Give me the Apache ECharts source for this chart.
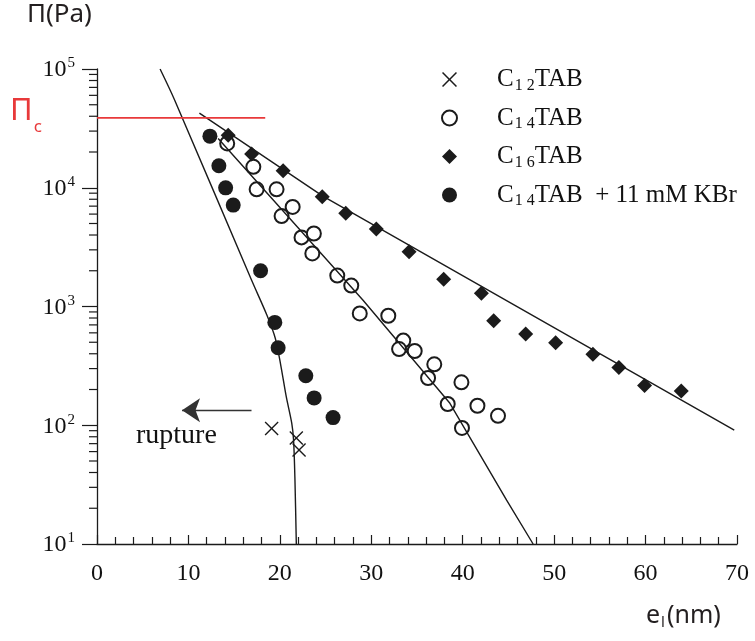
<!DOCTYPE html>
<html><head><meta charset="utf-8">
<script src="https://cdn.jsdelivr.net/npm/echarts@6/dist/echarts.min.js"></script>
<style>html,body{margin:0;padding:0;background:#fff}#c{width:755px;height:641px}</style>
</head><body><div id="c"></div>
<script>
// ---- data (e_l in nm, Pi in Pa) ----
const c12 = [[19.1, 94], [21.8, 78], [22.1, 62]];
const c14 = [[14.24, 23600], [17.1, 15000], [17.46, 9700], [19.64, 9700], [21.4, 6900], [20.19, 5770],
  [22.37, 3820], [23.72, 4120], [23.55, 2800], [26.28, 1820], [27.81, 1500], [28.74, 875], [31.86, 836],
  [33.5, 516], [33.04, 438], [34.75, 422], [36.89, 326], [36.21, 250], [39.86, 230], [38.36, 151],
  [41.61, 146], [43.86, 120], [39.92, 95]];
const c16 = [[14.35, 27700], [16.91, 19200], [20.36, 13900], [24.64, 8400], [27.21, 6100], [30.55, 4500],
  [34.13, 2890], [37.92, 1700], [42.04, 1290], [43.39, 759], [46.89, 586], [50.16, 494], [54.24, 397],
  [57.08, 306], [59.89, 216], [63.9, 194]];
const c14kbr = [[12.35, 27200], [13.33, 15300], [14.07, 9980], [14.9, 7140], [17.89, 2000], [19.45, 735],
  [19.81, 449], [22.84, 261], [23.75, 170], [25.82, 116]];
const fitC12 = [[6.9, 100000], [8.5, 54600], [16.9, 1670], [18.6, 840], [19.5, 540], [20.1, 320],
  [20.7, 174], [21.3, 104], [21.5, 75], [21.65, 35], [21.8, 10]];
const fitC14 = [[13.25, 26000], [29.1, 1130], [38.6, 153], [44.8, 23.4], [47.7, 10]];
const fitC16 = [[11.2, 42500], [24.7, 8490], [69.7, 91]];
const piC = [[0, 38700], [18.4, 38700]];
const ruptureArrow = [[16.9, 134], [9.3, 134]];
const xTickValues = [0, 10, 20, 30, 40, 50, 60, 70];
const yDecades = [10, 100, 1000, 10000, 100000];
const yMinorMultipliers = [2, 3, 4, 5, 6, 7, 8, 9];
const names = ['C12TAB', 'C14TAB', 'C16TAB', 'C14TAB  + 11 mM KBr'];

const yMinor = [];
yDecades.slice(0, -1).forEach(d => yMinorMultipliers.forEach(m => yMinor.push([0, d * m])));

const ink = '#1b1b1b';
const serif = '"Liberation Serif", "DejaVu Serif", serif';
const sans = '"Noto Sans", "Open Sans", sans-serif';
const crossPath = 'path://M0,0.7L0.7,0L5,4.3L9.3,0L10,0.7L5.7,5L10,9.3L9.3,10L5,5.7L0.7,10L0,9.3L4.3,5Z';

const chart = echarts.init(document.getElementById('c'));
chart.setOption({
  animation: false,
  backgroundColor: '#fff',
  grid: { left: 97, right: 18, top: 69, bottom: 97, containLabel: false },
  xAxis: {
    type: 'value', min: 0, max: 70, interval: 10,
    axisLine: { lineStyle: { color: ink, width: 1.3 } },
    axisTick: { inside: true, length: 9, lineStyle: { color: ink, width: 1.2 } },
    minorTick: { show: true, splitNumber: 5, length: 7, lineStyle: { color: ink, width: 1.2 } },
    splitLine: { show: false },
    axisLabel: { margin: 18, color: '#111', fontFamily: serif, fontSize: 24,
      formatter: v => xTickValues.includes(v) ? String(v) : '' }
  },
  yAxis: {
    type: 'log', logBase: 10, min: 10, max: 100000,
    axisLine: { show: true, lineStyle: { color: ink, width: 1.3 } },
    axisTick: { show: true, inside: false, length: 15, lineStyle: { color: ink, width: 1.2 } },
    splitLine: { show: false },
    axisLabel: {
      margin: 22,
      formatter: v => '{b|10}{e|' + Math.round(Math.log10(v)) + '}',
      rich: {
        b: { fontFamily: serif, fontSize: 24, color: '#111', lineHeight: 26, verticalAlign: 'bottom' },
        e: { fontFamily: serif, fontSize: 15, color: '#111', lineHeight: 26, verticalAlign: 'top', padding: [0, 0, 0, 1] }
      }
    }
  },
  legend: {
    data: names, orient: 'vertical', left: 436, top: 62, itemWidth: 15, itemHeight: 15, itemGap: 12,
    selectedMode: false,
    formatter: n => {
      const m = n.match(/^C(\d+)(TAB)(.*)$/);
      return '{m|C}{s|' + m[1].split('').join(' ') + '}{m|' + m[2] + m[3] + '}';
    },
    textStyle: {
      padding: [0, 0, 0, 35],
      rich: {
        m: { fontFamily: serif, fontSize: 25, color: '#111', lineHeight: 28, verticalAlign: 'middle' },
        s: { fontFamily: serif, fontSize: 16, color: '#111', lineHeight: 14, verticalAlign: 'bottom', padding: [0, 0, 0, 1] }
      }
    }
  },
  series: [
    { type: 'custom', silent: true, clip: false, data: yMinor,
      renderItem: (params, api) => {
        const p = api.coord([api.value(0), api.value(1)]);
        return { type: 'line', shape: { x1: p[0] - 8, y1: p[1], x2: p[0], y2: p[1] },
          style: { stroke: ink, lineWidth: 1.2 } };
      } },
    { name: 'fitC12', type: 'line', data: fitC12, symbol: 'none', silent: true, smooth: 0.3,
      lineStyle: { color: ink, width: 1.4 },
      markLine: {
        silent: true, symbol: ['none', 'arrow'], symbolSize: 18, precision: 4,
        label: { show: false },
        lineStyle: { color: '#333', width: 1.3, type: 'solid' },
        emphasis: { disabled: true },
        data: [[{ coord: ruptureArrow[0] }, { coord: ruptureArrow[1] }]]
      } },
    { name: 'fitC14', type: 'line', data: fitC14, symbol: 'none', silent: true,
      lineStyle: { color: ink, width: 1.4 } },
    { name: 'fitC16', type: 'line', data: fitC16, symbol: 'none', silent: true,
      lineStyle: { color: ink, width: 1.4 } },
    { name: 'PiC', type: 'line', data: piC, symbol: 'none', silent: true, clip: false,
      lineStyle: { color: '#e8393a', width: 1.8 } },
    { name: names[0], type: 'scatter', data: c12, symbol: crossPath, symbolSize: 14,
      itemStyle: { color: ink, opacity: 1 } },
    { name: names[1], type: 'scatter', data: c14, symbol: 'emptyCircle', symbolSize: 14,
      itemStyle: { color: ink, borderColor: ink, borderWidth: 1.3, opacity: 1 } },
    { name: names[2], type: 'scatter', data: c16, symbol: 'diamond', symbolSize: 15,
      itemStyle: { color: ink, opacity: 1 } },
    { name: names[3], type: 'scatter', data: c14kbr, symbol: 'circle', symbolSize: 15,
      itemStyle: { color: ink, opacity: 1 } }
  ],
  graphic: [
    { type: 'text', left: 27, top: 2, style: { text: 'Π(Pa)', font: '26px ' + sans, fill: '#231f20' } },
    { type: 'text', left: 10, top: 96, style: {
        text: '{p|Π}{c|c}', fill: '#e8393a',
        rich: { p: { fontFamily: sans, fontSize: 31, fill: '#e8393a', lineHeight: 34, verticalAlign: 'top' },
                c: { fontFamily: sans, fontSize: 17, fill: '#e8393a', lineHeight: 40, verticalAlign: 'bottom', padding: [0, 0, 0, 1] } } } },
    { type: 'text', left: 646, top: 603, style: {
        text: '{a|e}{s|l}{a|(nm)}',
        rich: { a: { fontFamily: sans, fontSize: 25, fill: '#231f20', lineHeight: 30, verticalAlign: 'middle' },
                s: { fontFamily: sans, fontSize: 15, fill: '#231f20', lineHeight: 14, verticalAlign: 'bottom', padding: [0, 2, 0, 1] } } } },
    { type: 'text', left: 136, top: 422, style: { text: 'rupture', font: '28px ' + serif, fill: '#111' } }
  ]
});
</script></body></html>
